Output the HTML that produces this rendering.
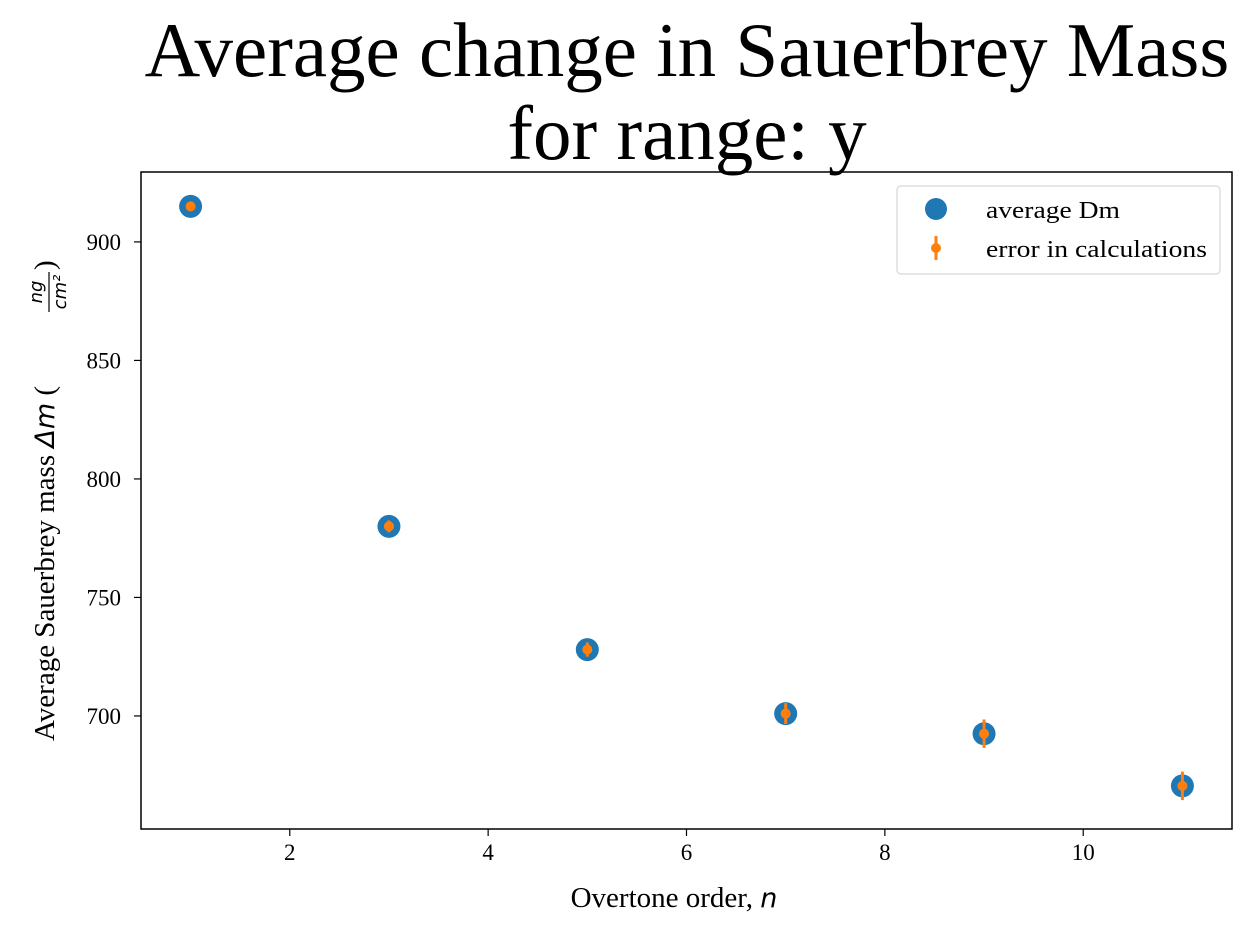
<!DOCTYPE html>
<html><head><meta charset="utf-8"><style>
body{margin:0;background:#fff;}
svg{display:block;font-family:"Liberation Serif",serif;}
</style></head><body>
<svg id="chart" width="1255" height="934">
<text x="687" y="76" font-size="77" text-anchor="middle">Average change in Sauerbrey Mass</text>
<text x="687" y="159" font-size="77" text-anchor="middle">for range: y</text>
<g id="axes"></g>
<g id="marks"></g>
<rect x="141" y="172" width="1091" height="657" fill="none" stroke="#000" stroke-width="1.5"/>
<text x="674" y="907" font-size="29" text-anchor="middle">Overtone order, <tspan font-family="'DejaVu Sans',sans-serif" font-style="italic" font-size="27">n</tspan></text>
<g transform="translate(54,741) rotate(-90)">
<text x="0" y="0" font-size="29">Average Sauerbrey mass <tspan font-family="'DejaVu Sans',sans-serif" font-style="italic" font-size="27">Δm</tspan> (</text>
<text x="449" y="-12" font-size="18" text-anchor="middle" font-family="'DejaVu Sans',sans-serif" font-style="italic">ng</text>
<line x1="429" y1="-5" x2="469" y2="-5" stroke="#000" stroke-width="1.2"/>
<text x="449" y="12" font-size="18" text-anchor="middle" font-family="'DejaVu Sans',sans-serif" font-style="italic">cm²</text>
<text x="471" y="0" font-size="29">)</text>
</g>
<g>
<rect x="897" y="186" width="323" height="88" rx="4" fill="#fff" stroke="#ddd" stroke-width="1.5"/>
<circle cx="936" cy="209" r="11" fill="#1f77b4"/>
<text x="986" y="218" font-size="24" textLength="134" lengthAdjust="spacingAndGlyphs">average Dm</text>
<line x1="936" y1="236" x2="936" y2="260" stroke="#ff7f0e" stroke-width="3"/>
<circle cx="936" cy="248" r="5" fill="#ff7f0e"/>
<text x="986" y="257" font-size="24" textLength="221" lengthAdjust="spacingAndGlyphs">error in calculations</text>
</g>
</svg>
<script>
const overtones=[1,3,5,7,9,11];
const avgMass=[915,780,728,701,692.5,670.5];
const errMass=[2,2.5,3,4.4,6,6];
const xTicks=[2,4,6,8,10];
const yTicks=[700,750,800,850,900];
const L=141,R=1232,T=172,B=829,X0=0.5,X1=11.5,Y0=652.3,Y1=929.5;
const sx=v=>L+(v-X0)/(X1-X0)*(R-L);
const sy=v=>B-(v-Y0)/(Y1-Y0)*(B-T);
const NS="http://www.w3.org/2000/svg";
const axes=document.getElementById('axes'),marks=document.getElementById('marks');
function mk(t,a,p){const e=document.createElementNS(NS,t);for(const k in a)e.setAttribute(k,a[k]);p.appendChild(e);return e;}
xTicks.forEach(v=>{
 const l=mk('line',{x1:sx(v),x2:sx(v),y1:B,y2:B+7,stroke:'#000','stroke-width':1.2},axes);
 
 
 const t=mk('text',{x:sx(v),y:B+31,'font-size':23,'text-anchor':'middle'},axes);t.textContent=v;
 
 
});
yTicks.forEach(v=>{
 const l=mk('line',{x1:L-7,x2:L,y1:sy(v),y2:sy(v),stroke:'#000','stroke-width':1.2},axes);
 
 
 const t=mk('text',{x:L-20,y:sy(v)+8,'font-size':23,'text-anchor':'end'},axes);t.textContent=v;
 
 
});
overtones.forEach((n,i)=>{
 const c=mk('circle',{cx:sx(n),cy:sy(avgMass[i]),r:11.5,fill:'#1f77b4'},marks);
 
 
});
overtones.forEach((n,i)=>{
 const e=mk('line',{x1:sx(n),x2:sx(n),y1:sy(avgMass[i]+errMass[i]),y2:sy(avgMass[i]-errMass[i]),stroke:'#ff7f0e','stroke-width':3},marks);
 
 
 const c=mk('circle',{cx:sx(n),cy:sy(avgMass[i]),r:5,fill:'#ff7f0e'},marks);
 
 
});
</script>
</body></html>
